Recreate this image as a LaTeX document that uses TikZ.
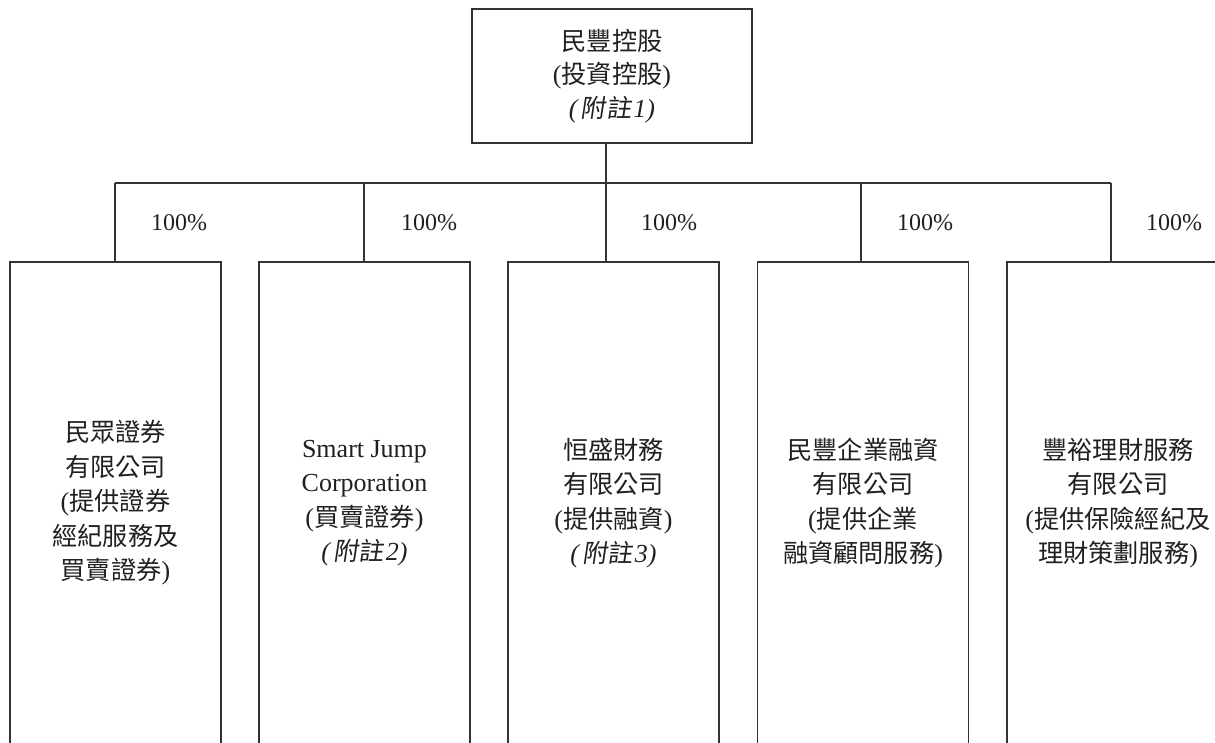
\documentclass[tikz,border=0pt]{standalone}
\usepackage{fontspec}
\setmainfont{Liberation Serif}
\newfontfamily\cjk[Scale=0.97]{Noto Sans CJK TC}
\newfontfamily\cjkit[Scale=0.97,FakeSlant=0.15]{Noto Sans CJK TC}
\newcommand\zh[1]{{\cjk #1}}
\newcommand\zhit[1]{{\cjkit #1}}
\newcommand\note[1]{\textit{(}\kern2pt\zhit{附註}\kern2pt\textit{#1)}}
\definecolor{linecol}{HTML}{333333}
\definecolor{textcol}{HTML}{231F20}
\tikzset{
  conn/.style={draw=linecol, line width=1.4pt},
  orgbox/.style={draw=linecol, line width=1.4pt, align=center, text=textcol,
    inner sep=0pt, font=\fontsize{26}{34.5}\selectfont},
  subbox/.style={orgbox, minimum width=211pt, minimum height=482pt},
  pct/.style={text=textcol, inner sep=0pt, font=\fontsize{24}{28}\selectfont}
}
\begin{document}
\begin{tikzpicture}[x=1pt,y=-1pt]
\useasboundingbox (0,0) rectangle (1215,742);
\clip (0,0) rectangle (1215,742);
% top box
\node[orgbox, minimum width=280pt, minimum height=134pt, font=\fontsize{26}{33.5}\selectfont] (top) at (612,76)
  {\zh{民豐控股}\\(\zh{投資控股})\\\note{1}};
% subsidiaries
\node[subbox] (b1) at (115.5,503)
  {\zh{民眾證券}\\\zh{有限公司}\\(\zh{提供證券}\\\zh{經紀服務及}\\\zh{買賣證券})};
\node[subbox] (b2) at (364.5,503)
  {Smart Jump\\Corporation\\(\zh{買賣證券})\\\note{2}};
\node[subbox] (b3) at (613.5,503)
  {\zh{恒盛財務}\\\zh{有限公司}\\(\zh{提供融資})\\\note{3}};
\node[subbox] (b4) at (863,503)
  {\zh{民豐企業融資}\\\zh{有限公司}\\(\zh{提供企業}\\\zh{融資顧問服務})};
\node[subbox, minimum width=222pt] (b5) at (1118,503)
  {\zh{豐裕理財服務}\\\zh{有限公司}\\(\zh{提供保險經紀及}\\\zh{理財策劃服務})};
% bus coordinates
\coordinate (d1) at (115,183);
\coordinate (d2) at (364,183);
\coordinate (d3) at (606,183);
\coordinate (d4) at (861,183);
\coordinate (d5) at (1111,183);
\draw[conn] (d1) -- (d5);
\draw[conn] (top.south -| d3) -- (d3 |- b3.north);
\draw[conn] (d1) -- (d1 |- b1.north);
\draw[conn] (d2) -- (d2 |- b2.north);
\draw[conn] (d4) -- (d4 |- b4.north);
\draw[conn] (d5) -- (d5 |- b5.north);
% percentages
\node[pct] (p1) at (179,223) {100\%};
\node[pct] (p2) at (429,223) {100\%};
\node[pct] (p3) at (669,223) {100\%};
\node[pct] (p4) at (925,223) {100\%};
\node[pct] (p5) at (1174,223) {100\%};
\end{tikzpicture}
\end{document}
